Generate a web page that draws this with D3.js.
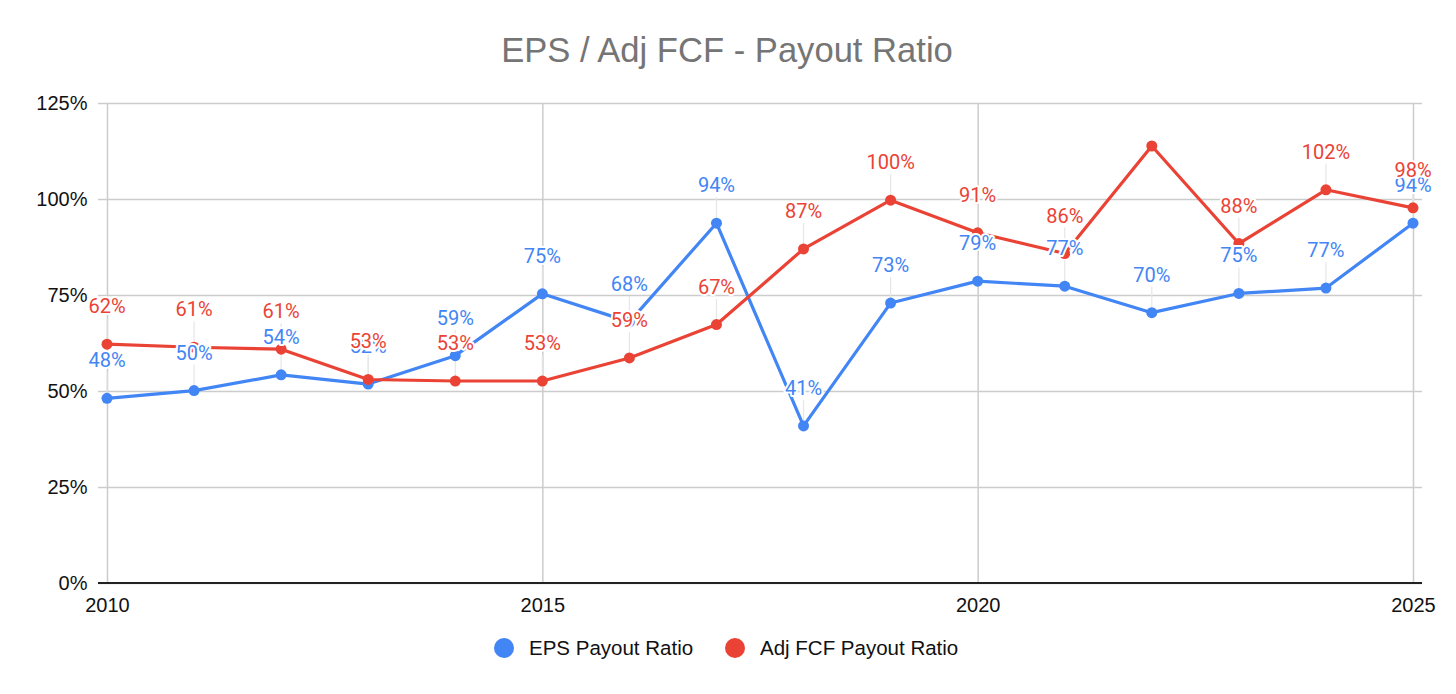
<!DOCTYPE html>
<html>
<head>
<meta charset="utf-8">
<script src="https://cdn.jsdelivr.net/npm/d3@7"></script>
<style>
  html, body { margin: 0; padding: 0; background: #fff; }
  svg { display: block; }
</style>
</head>
<body>
<svg id="chart" width="1456" height="694"></svg>
<script>
// ---- Data ----
const years = [2010, 2011, 2012, 2013, 2014, 2015, 2016, 2017, 2018, 2019, 2020, 2021, 2022, 2023, 2024, 2025];
const epsPayout = [48.1, 50.1, 54.2, 51.8, 59.2, 75.3, 68.0, 93.7, 40.9, 72.9, 78.6, 77.3, 70.4, 75.4, 76.8, 93.7];
const fcfPayout = [62.2, 61.4, 60.9, 53.0, 52.6, 52.6, 58.6, 67.3, 87.0, 99.7, 91.2, 85.8, 113.8, 88.4, 102.4, 97.7];
const fcfLabelHidden = [2022];
const yTicks = [0, 25, 50, 75, 100, 125];
const xTicks = [2010, 2015, 2020, 2025];
const seriesNames = ["EPS Payout Ratio", "Adj FCF Payout Ratio"];
const seriesColors = ["#4285F4", "#EA4335"];
const title = "EPS / Adj FCF - Payout Ratio";

// ---- Layout ----
const svg = d3.select("#chart");
const axisFont = "'Liberation Sans', Arial, sans-serif";
const labelFont = "Roboto, 'Liberation Sans', Arial, sans-serif";

const x = d3.scaleLinear().domain([2010, 2025]).range([107, 1413]);
const y = d3.scaleLinear().domain([0, 125]).range([583, 103]);
const gridLeft = 98, gridRight = 1422;

// Title
svg.append("text")
  .attr("x", 727).attr("y", 62)
  .attr("text-anchor", "middle")
  .attr("font-family", axisFont)
  .attr("font-size", 34.6)
  .attr("fill", "#757575")
  .text(title);

// Y axis with gridlines
const yAxis = svg.append("g")
  .attr("transform", `translate(${gridLeft},0)`)
  .call(d3.axisLeft(y).tickValues(yTicks).tickFormat(d => d + "%")
    .tickSize(-(gridRight - gridLeft)).tickPadding(10.5));
yAxis.select(".domain").remove();
yAxis.selectAll("line").attr("stroke", "#cccccc").attr("stroke-width", 1.5);
yAxis.selectAll("text").attr("font-family", axisFont).attr("font-size", 20).attr("fill", "#111");

// X axis with vertical gridlines
const xAxis = svg.append("g")
  .attr("transform", `translate(0,${y(0)})`)
  .call(d3.axisBottom(x).tickValues(xTicks).tickFormat(d3.format("d"))
    .tickSize(-(y(0) - y(125))).tickPadding(14.8));
xAxis.select(".domain").remove();
xAxis.selectAll("line").attr("stroke", "#cccccc").attr("stroke-width", 1.5);
xAxis.selectAll("text").attr("font-family", axisFont).attr("font-size", 20).attr("fill", "#111");

// Zero baseline
svg.append("line")
  .attr("x1", gridLeft).attr("x2", gridRight)
  .attr("y1", y(0)).attr("y2", y(0))
  .attr("stroke", "#222").attr("stroke-width", 2);

const series = [
  { name: seriesNames[0], color: seriesColors[0], values: epsPayout, hidden: [] },
  { name: seriesNames[1], color: seriesColors[1], values: fcfPayout, hidden: fcfLabelHidden }
];

const line = d3.line().x(d => x(d.year)).y(d => y(d.v));

// Leader lines for labels
series.forEach(s => {
  const pts = years.map((yr, i) => ({ year: yr, v: s.values[i] })).filter(d => !s.hidden.includes(d.year));
  svg.append("g").selectAll("line").data(pts).join("line")
    .attr("x1", d => x(d.year)).attr("x2", d => x(d.year))
    .attr("y1", d => y(d.v) - 26).attr("y2", d => y(d.v) - 5)
    .attr("stroke", "#e6e6e6").attr("stroke-width", 1.2);
});

// Lines and points
series.forEach(s => {
  const pts = years.map((yr, i) => ({ year: yr, v: s.values[i] }));
  svg.append("path").datum(pts)
    .attr("fill", "none").attr("stroke", s.color).attr("stroke-width", 3.2)
    .attr("stroke-linejoin", "round")
    .attr("d", line);
  svg.append("g").selectAll("circle").data(pts).join("circle")
    .attr("cx", d => x(d.year)).attr("cy", d => y(d.v)).attr("r", 5.5)
    .attr("fill", s.color);
});

// Data labels
series.forEach(s => {
  const pts = years.map((yr, i) => ({ year: yr, v: s.values[i] })).filter(d => !s.hidden.includes(d.year));
  svg.append("g").selectAll("text").data(pts).join("text")
    .attr("x", d => x(d.year)).attr("y", d => y(d.v) - 31)
    .attr("text-anchor", "middle")
    .attr("font-family", labelFont).attr("font-size", 20)
    .attr("fill", s.color)
    .attr("stroke", "#fff").attr("stroke-width", 4).attr("paint-order", "stroke")
    .attr("stroke-linejoin", "round")
    .text(d => Math.round(d.v) + "%");
});

// Legend
const legendX = [504, 735];
series.forEach((s, i) => {
  const g = svg.append("g").attr("transform", `translate(${legendX[i]},648)`);
  g.append("circle").attr("r", 10).attr("fill", s.color);
  g.append("text").attr("x", 25).attr("y", 7)
    .attr("font-family", axisFont).attr("font-size", 20.5).attr("fill", "#111")
    .text(s.name);
});
</script>
</body>
</html>
